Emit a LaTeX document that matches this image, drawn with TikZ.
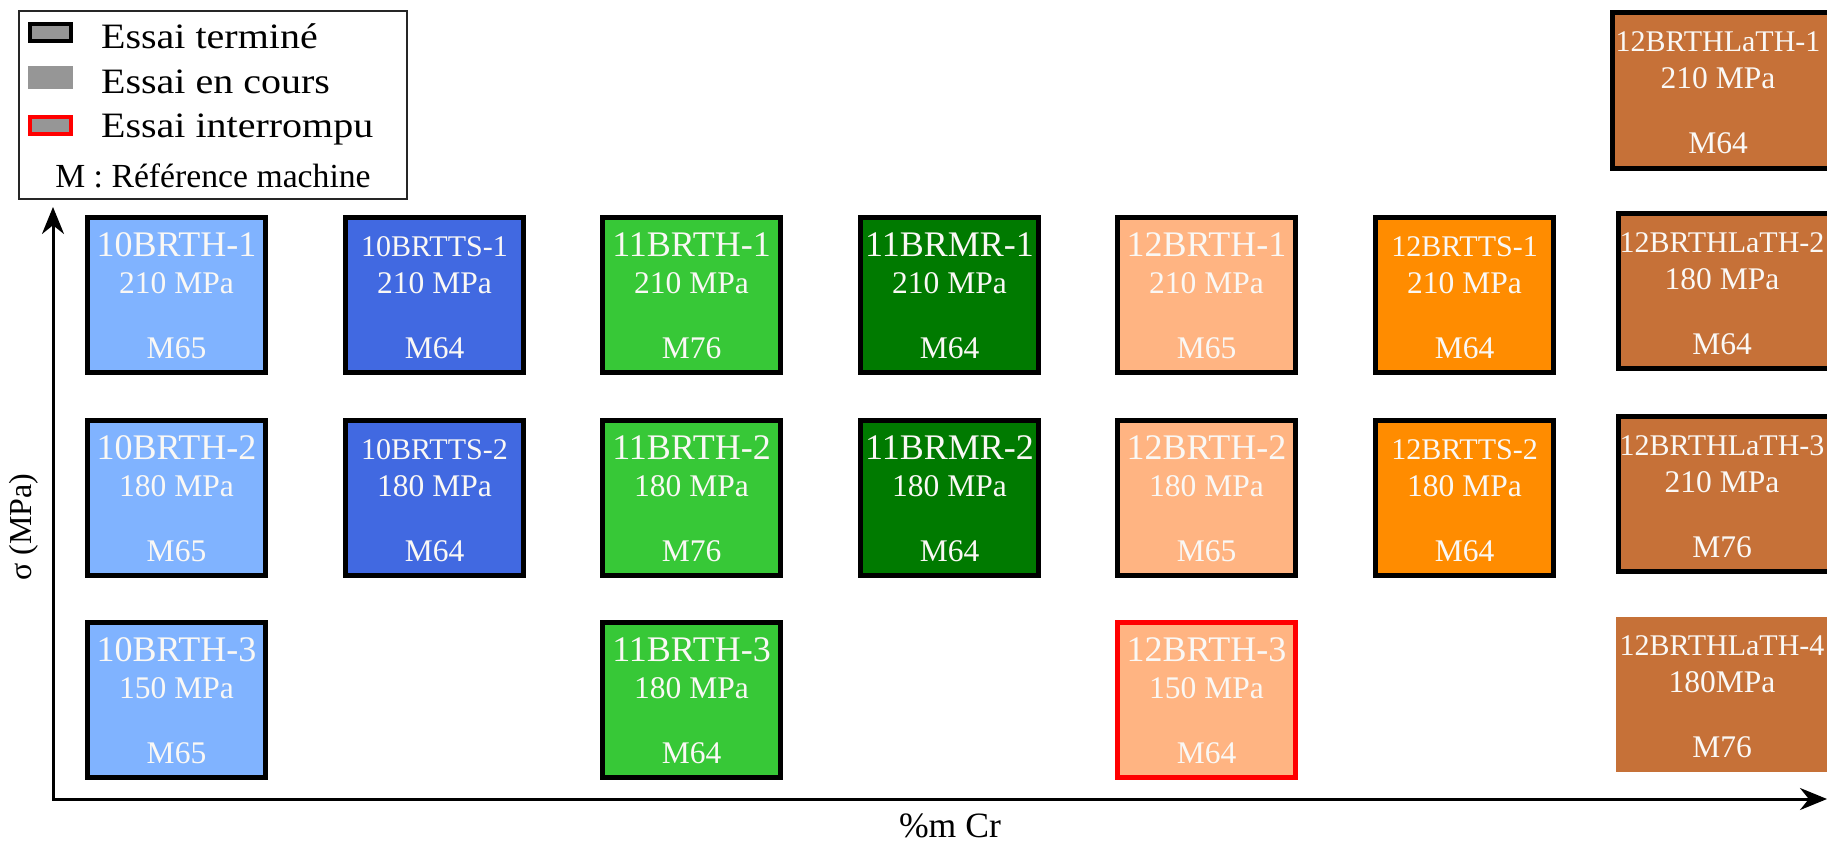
\documentclass[tikz,border=0pt]{standalone}
\usepackage{fontspec}
\setmainfont{Liberation Serif}
\newfontfamily\legfont[FakeStretch=1.12]{Liberation Serif}
\usetikzlibrary{arrows.meta,calc}
\definecolor{cLB}{RGB}{128,179,255}
\definecolor{cRB}{RGB}{65,105,225}
\definecolor{cLG}{RGB}{55,200,55}
\definecolor{cDG}{RGB}{0,122,0}
\definecolor{cSA}{RGB}{255,180,130}
\definecolor{cOR}{RGB}{255,140,0}
\definecolor{cBR}{RGB}{198,113,56}
\definecolor{cGR}{RGB}{150,150,150}
\definecolor{cTX}{RGB}{250,248,245}
\tikzset{
  cellbox/.style={rectangle,draw=black,line width=5pt,minimum width=178pt,minimum height=155pt,inner sep=0pt,outer sep=0pt,anchor=north west},
  noborder/.style={draw=none},
  redborder/.style={draw=red},
  wide/.style={minimum width=260pt},
  ttlA/.style={font=\fontsize{36}{40}\selectfont,text=cTX,anchor=base,inner sep=0pt},
  ttlB/.style={font=\fontsize{30}{34}\selectfont,text=cTX,anchor=base,inner sep=0pt},
  subtxt/.style={font=\fontsize{31.5}{36}\selectfont,text=cTX,anchor=base,inner sep=0pt},
  legbox/.style={rectangle,draw=black!85,line width=2pt,minimum width=388pt,minimum height=188pt,inner sep=0pt},
  swatch/.style={rectangle,fill=cGR,minimum width=41pt,minimum height=17pt,inner sep=0pt},
  legtxt/.style={font=\legfont\fontsize{35.7}{40}\selectfont,anchor=base west,inner sep=0pt},
  axis/.style={line width=3pt,line join=miter,{Stealth[length=27pt,width=22pt]}-{Stealth[length=27pt,width=22pt]}},
  axlabel/.style={font=\fontsize{35.6}{40}\selectfont,inner sep=0pt}
}
% #1 name, #2 left, #3 top, #4 box style, #5 title style, #6 title, #7 stress, #8 machine, #9 text centre x
\newcommand\mycell[9]{%
  \node[cellbox,#4] (#1) at (#2+2.5,#3+2.5) {};
  \node[#5] (#1-t) at (#9,#3+41) {#6};
  \node[subtxt] (#1-s) at (#9,#3+78) {#7};
  \node[subtxt] (#1-m) at (#9,#3+143) {#8};
}
\begin{document}
\begin{tikzpicture}[x=1pt,y=-1pt]
\useasboundingbox (0,0) rectangle (1827,841);
\fill[white] (0,0) rectangle (1827,841);

% legend
\node[legbox] (leg) at (213,105) {};
\node[swatch,draw=black,line width=4pt,minimum width=41pt,minimum height=17pt] (sw1) at (50.5,32.5) {};
\node[swatch,minimum width=45pt,minimum height=23pt] (sw2) at (50.5,77.5) {};
\node[swatch,draw=red,line width=4pt] (sw3) at (50.5,125.5) {};
\node[legtxt] (l1) at (101,48) {Essai terminé};
\node[legtxt] (l2) at (101,93) {Essai en cours};
\node[legtxt] (l3) at (101,137) {Essai interrompu};
\node[font=\fontsize{33.7}{38}\selectfont,anchor=base,inner sep=0pt] (l4) at (213,187) {M : Référence machine};

% axes
\coordinate (O) at (53,799);
\coordinate (ytip) at (53,207);
\coordinate (xtip) at (1827,799);
\draw[axis] (ytip) -- (O) -- (xtip);
\node[axlabel,anchor=base] (xl) at (950,837) {\%m Cr};
\node[axlabel,font=\fontsize{32}{36}\selectfont,rotate=90] (yl) at (24,527) {σ (MPa)};

% row 1
\mycell{a1}{85}{215}{fill=cLB}{ttlA}{10BRTH-1}{210 MPa}{M65}{176.5}
\mycell{b1}{343}{215}{fill=cRB}{ttlB}{10BRTTS-1}{210 MPa}{M64}{434.5}
\mycell{c1}{600}{215}{fill=cLG}{ttlA}{11BRTH-1}{210 MPa}{M76}{691.5}
\mycell{d1}{858}{215}{fill=cDG}{ttlA}{11BRMR-1}{210 MPa}{M64}{949.5}
\mycell{e1}{1115}{215}{fill=cSA}{ttlA}{12BRTH-1}{210 MPa}{M65}{1206.5}
\mycell{f1}{1373}{215}{fill=cOR}{ttlB}{12BRTTS-1}{210 MPa}{M64}{1464.5}
% row 2
\mycell{a2}{85}{418}{fill=cLB}{ttlA}{10BRTH-2}{180 MPa}{M65}{176.5}
\mycell{b2}{343}{418}{fill=cRB}{ttlB}{10BRTTS-2}{180 MPa}{M64}{434.5}
\mycell{c2}{600}{418}{fill=cLG}{ttlA}{11BRTH-2}{180 MPa}{M76}{691.5}
\mycell{d2}{858}{418}{fill=cDG}{ttlA}{11BRMR-2}{180 MPa}{M64}{949.5}
\mycell{e2}{1115}{418}{fill=cSA}{ttlA}{12BRTH-2}{180 MPa}{M65}{1206.5}
\mycell{f2}{1373}{418}{fill=cOR}{ttlB}{12BRTTS-2}{180 MPa}{M64}{1464.5}
% row 3
\mycell{a3}{85}{620}{fill=cLB}{ttlA}{10BRTH-3}{150 MPa}{M65}{176.5}
\mycell{c3}{600}{620}{fill=cLG}{ttlA}{11BRTH-3}{180 MPa}{M64}{691.5}
\mycell{e3}{1115}{620}{fill=cSA,redborder}{ttlA}{12BRTH-3}{150 MPa}{M64}{1206.5}
% column 7
\mycell{g1}{1610}{10}{fill=cBR,wide,minimum height=156pt}{ttlB}{12BRTHLaTH-1}{210 MPa}{M64}{1718}
\mycell{g2}{1616}{211}{fill=cBR,wide}{ttlB}{12BRTHLaTH-2}{180 MPa}{M64}{1722}
\mycell{g3}{1616}{414}{fill=cBR,wide}{ttlB}{12BRTHLaTH-3}{210 MPa}{M76}{1722}
\mycell{g4}{1613.5}{614}{fill=cBR,wide,noborder,minimum height=155pt}{ttlB}{12BRTHLaTH-4}{180MPa}{M76}{1722}
\end{tikzpicture}
\end{document}
